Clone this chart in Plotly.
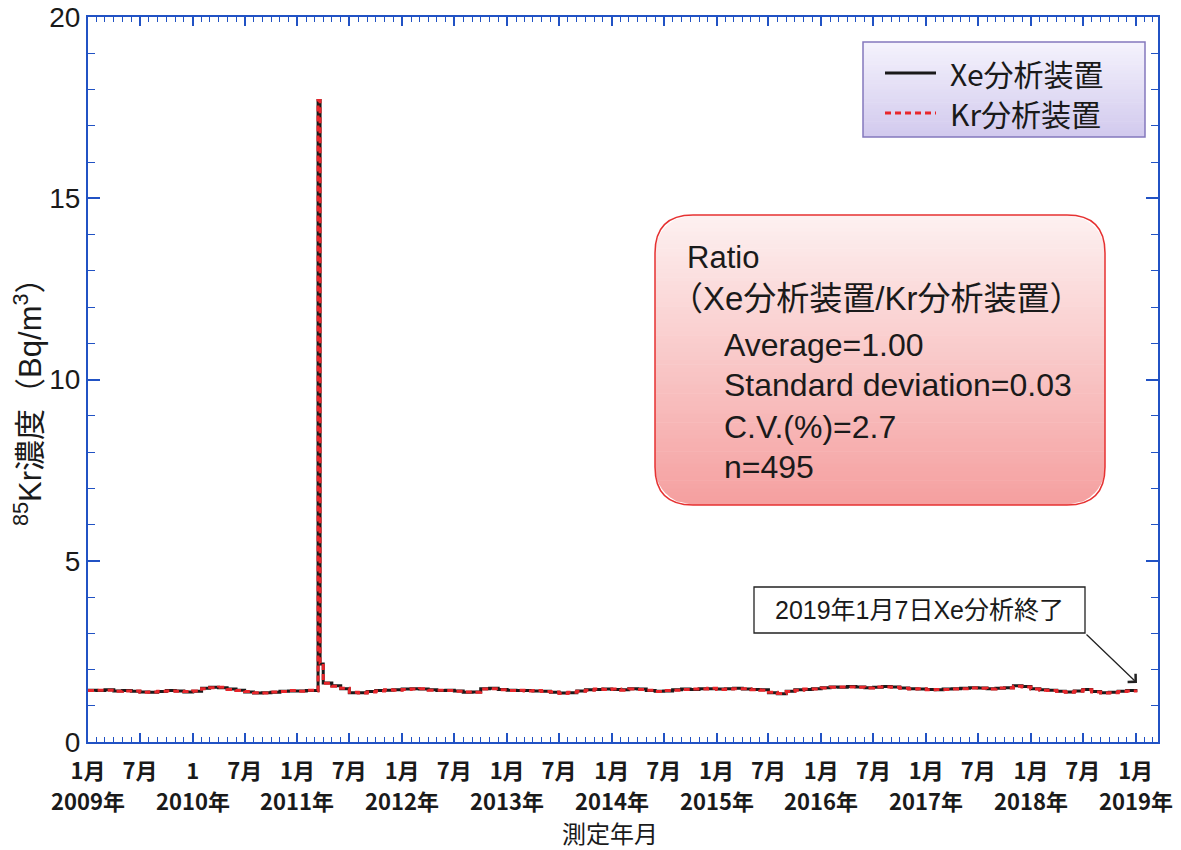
import pandas as pd
import plotly.graph_objects as go

# Monthly 85Kr concentration (Bq/m3), Jan .. Dec of each year
xe_2009 = [1.43, 1.42, 1.44, 1.41, 1.42, 1.40, 1.38, 1.37, 1.39, 1.42, 1.41, 1.38]
xe_2010 = [1.40, 1.48, 1.51, 1.50, 1.46, 1.43, 1.38, 1.35, 1.36, 1.37, 1.40, 1.41]
xe_2011 = [1.41, 1.42, 1.42, 1.63, 1.55, 1.47, 1.36, 1.36, 1.39, 1.42, 1.43, 1.44]
xe_2012 = [1.46, 1.47, 1.46, 1.44, 1.42, 1.43, 1.41, 1.37, 1.38, 1.47, 1.48, 1.45]
xe_2013 = [1.43, 1.42, 1.42, 1.41, 1.40, 1.37, 1.35, 1.36, 1.41, 1.44, 1.45, 1.46]
xe_2014 = [1.45, 1.44, 1.47, 1.46, 1.42, 1.40, 1.41, 1.44, 1.46, 1.45, 1.47, 1.47]
xe_2015 = [1.46, 1.47, 1.48, 1.46, 1.45, 1.44, 1.36, 1.33, 1.40, 1.44, 1.45, 1.47]
xe_2016 = [1.50, 1.52, 1.51, 1.53, 1.52, 1.50, 1.51, 1.53, 1.52, 1.49, 1.47, 1.46]
xe_2017 = [1.45, 1.44, 1.46, 1.47, 1.48, 1.50, 1.49, 1.47, 1.48, 1.50, 1.55, 1.53]
xe_2018 = [1.47, 1.44, 1.43, 1.40, 1.38, 1.41, 1.45, 1.39, 1.36, 1.37, 1.40, 1.42]
xe_2019 = [1.42]

kr_2009 = [1.42, 1.43, 1.43, 1.40, 1.41, 1.41, 1.37, 1.38, 1.40, 1.41, 1.40, 1.39]
kr_2010 = [1.41, 1.47, 1.50, 1.51, 1.45, 1.42, 1.39, 1.36, 1.35, 1.38, 1.39, 1.42]
kr_2011 = [1.40, 1.43, 1.41, 1.62, 1.54, 1.48, 1.37, 1.35, 1.38, 1.41, 1.44, 1.43]
kr_2012 = [1.45, 1.46, 1.47, 1.43, 1.43, 1.42, 1.40, 1.38, 1.37, 1.46, 1.47, 1.44]
kr_2013 = [1.42, 1.43, 1.41, 1.42, 1.39, 1.38, 1.34, 1.37, 1.40, 1.43, 1.46, 1.45]
kr_2014 = [1.46, 1.43, 1.46, 1.45, 1.43, 1.39, 1.42, 1.43, 1.45, 1.46, 1.46, 1.48]
kr_2015 = [1.45, 1.46, 1.47, 1.47, 1.44, 1.43, 1.37, 1.34, 1.39, 1.43, 1.46, 1.46]
kr_2016 = [1.49, 1.51, 1.52, 1.52, 1.51, 1.49, 1.52, 1.52, 1.51, 1.48, 1.46, 1.47]
kr_2017 = [1.44, 1.45, 1.45, 1.46, 1.47, 1.49, 1.48, 1.46, 1.49, 1.49, 1.54, 1.52]
kr_2018 = [1.46, 1.43, 1.42, 1.39, 1.37, 1.40, 1.44, 1.38, 1.35, 1.36, 1.39, 1.41]
kr_2019 = [1.41]

# Weekly results around the March 2011 release
spike_dates = ["2011-03-14", "2011-03-21"]
xe_spike = [17.7, 2.15]
kr_spike = [17.7, 2.18]

end_date = "2019-01-07"

# Axis labels
half_year_ticks = pd.date_range("2009-01-01", "2019-01-01", freq="6MS")
half_year_text = ["1月", "7月", "1", "7月", "1月", "7月", "1月", "7月", "1月", "7月",
                  "1月", "7月", "1月", "7月", "1月", "7月", "1月", "7月", "1月", "7月", "1月"]
year_labels = ["2009年", "2010年", "2011年", "2012年", "2013年", "2014年",
               "2015年", "2016年", "2017年", "2018年", "2019年"]

series_names = ["Xe分析装置", "Kr分析装置"]
ratio_lines = ["Ratio", "（Xe分析装置/Kr分析装置）", "Average=1.00",
               "Standard deviation=0.03", "C.V.(%)=2.7", "n=495"]


def build(monthly_lists, spike_vals):
    vals = [v for lst in monthly_lists for v in lst]
    months = pd.date_range("2009-01-01", periods=len(vals), freq="MS")
    s = pd.Series(vals, index=months)
    s = pd.concat([s, pd.Series(spike_vals, index=pd.to_datetime(spike_dates))])
    s.loc[pd.Timestamp(end_date)] = vals[-1]
    return s.sort_index()


xe = build([xe_2009, xe_2010, xe_2011, xe_2012, xe_2013, xe_2014,
            xe_2015, xe_2016, xe_2017, xe_2018, xe_2019], xe_spike)
kr = build([kr_2009, kr_2010, kr_2011, kr_2012, kr_2013, kr_2014,
            kr_2015, kr_2016, kr_2017, kr_2018, kr_2019], kr_spike)

W, H = 1181, 850
L, R, T, B = 88, 1158, 17, 742


def px(x):
    return (x - L) / (R - L)


def py(y):
    return (B - y) / (B - T)


AXIS_BLUE = "#2152c4"
LAT = "Liberation Sans, Noto Sans CJK JP, sans-serif"
CJK = "Noto Sans CJK JP, sans-serif"
XE_COLOR = "#1a1a1a"
KR_COLOR = "#e8262b"
KR_DASH = "6px,4px"

fig = go.Figure()
fig.add_trace(go.Scatter(x=xe.index, y=xe.values, mode="lines", name=series_names[0],
                         line=dict(color=XE_COLOR, width=3, shape="hv")))
fig.add_trace(go.Scatter(x=kr.index, y=kr.values, mode="lines", name=series_names[1],
                         line=dict(color=KR_COLOR, width=3, shape="hv", dash=KR_DASH)))

shapes = []


def lerp(c0, c1, t):
    return "rgb(%d,%d,%d)" % tuple(round(a + (b - a) * t) for a, b in zip(c0, c1))


# legend panel: vertical gradient
lx0, lx1, ly0, ly1 = 863, 1145, 42, 137
n = 30
for i in range(n):
    a = ly0 + (ly1 - ly0) * i / n
    b = ly0 + (ly1 - ly0) * (i + 1) / n + 0.6
    shapes.append(dict(type="rect", xref="paper", yref="paper",
                       x0=px(lx0), x1=px(lx1), y0=py(min(b, ly1)), y1=py(a),
                       fillcolor=lerp((244, 242, 252), (210, 202, 238), i / (n - 1)),
                       line=dict(width=0), layer="above"))
shapes.append(dict(type="rect", xref="paper", yref="paper",
                   x0=px(lx0), x1=px(lx1), y0=py(ly1), y1=py(ly0),
                   line=dict(color="#8478bd", width=1.5), layer="above"))

# legend samples
legend_rows = [73, 113]
shapes.append(dict(type="line", xref="paper", yref="paper",
                   x0=px(885), x1=px(936), y0=py(legend_rows[0]), y1=py(legend_rows[0]),
                   line=dict(color=XE_COLOR, width=3), layer="above"))
shapes.append(dict(type="line", xref="paper", yref="paper",
                   x0=px(885), x1=px(936), y0=py(legend_rows[1]), y1=py(legend_rows[1]),
                   line=dict(color=KR_COLOR, width=3, dash=KR_DASH), layer="above"))

# ratio panel: rounded box with vertical gradient
bx0, bx1, by0, by1, rad = 655, 1105, 215, 505, 38


def inset(y):
    d = min(y - by0, by1 - y)
    if d >= rad:
        return 0.0
    d = max(d, 0.0)
    return rad - (rad ** 2 - (rad - d) ** 2) ** 0.5


n = 70
for i in range(n):
    a = by0 + (by1 - by0) * i / n
    b = min(by0 + (by1 - by0) * (i + 1) / n + 0.6, by1)
    ia, ib = inset(a), inset(b)
    path = "M{},{} L{},{} L{},{} L{},{} Z".format(
        px(bx0 + ia), py(a), px(bx1 - ia), py(a),
        px(bx1 - ib), py(b), px(bx0 + ib), py(b))
    shapes.append(dict(type="path", xref="paper", yref="paper", path=path,
                       fillcolor=lerp((253, 240, 240), (245, 160, 160), i / (n - 1)),
                       line=dict(width=0), layer="above"))

border = ("M{},{} L{},{} Q{},{} {},{} L{},{} Q{},{} {},{} L{},{} Q{},{} {},{} "
          "L{},{} Q{},{} {},{} Z").format(
    px(bx0 + rad), py(by0), px(bx1 - rad), py(by0),
    px(bx1), py(by0), px(bx1), py(by0 + rad),
    px(bx1), py(by1 - rad),
    px(bx1), py(by1), px(bx1 - rad), py(by1),
    px(bx0 + rad), py(by1),
    px(bx0), py(by1), px(bx0), py(by1 - rad),
    px(bx0), py(by0 + rad),
    px(bx0), py(by0), px(bx0 + rad), py(by0))
shapes.append(dict(type="path", xref="paper", yref="paper", path=border,
                   line=dict(color="#e63232", width=1.5), layer="above"))

# note box
shapes.append(dict(type="rect", xref="paper", yref="paper",
                   x0=px(754), x1=px(1085), y0=py(633), y1=py(587),
                   fillcolor="white", line=dict(color="#222222", width=1.3), layer="above"))

annotations = []
for name, row in zip(series_names, legend_rows):
    annotations.append(dict(text=name, xref="paper", yref="paper", x=px(948), y=py(row),
                            xanchor="left", yanchor="middle", showarrow=False,
                            font=dict(family=CJK, size=30, color="#1a1a1a")))

ratio_pos = [(685, 257), (668, 298), (722, 345), (722, 385), (722, 427), (722, 467)]
ratio_size = [31, 33, 32, 32, 32, 32]
for txt, (x, y), sz in zip(ratio_lines, ratio_pos, ratio_size):
    annotations.append(dict(text=txt, xref="paper", yref="paper", x=px(x), y=py(y),
                            xanchor="left", yanchor="middle", showarrow=False,
                            font=dict(family=LAT, size=sz, color="#1a1a1a")))

annotations.append(dict(text="2019年1月7日Xe分析終了", xref="paper", yref="paper",
                        x=px(919.5), y=py(610), xanchor="center", yanchor="middle",
                        showarrow=False, font=dict(family=LAT, size=25, color="#1a1a1a")))
annotations.append(dict(text="", xref="paper", yref="paper", x=px(1137), y=py(683),
                        ax=1085 - 1137, ay=633 - 683, axref="pixel", ayref="pixel",
                        showarrow=True, arrowhead=4, arrowsize=1.7, arrowwidth=1.3,
                        arrowcolor="#222222", standoff=0, startstandoff=0))

for lbl, d in zip(year_labels, pd.date_range("2009-01-01", "2019-01-01", freq="YS")):
    annotations.append(dict(text="<b>%s</b>" % lbl, xref="x", yref="paper", x=d,
                            y=py(800), xanchor="center", yanchor="middle", showarrow=False,
                            font=dict(family=CJK, size=22, color="#1a1a1a")))

annotations.append(dict(text="測定年月", xref="paper", yref="paper", x=px(610), y=py(832),
                        xanchor="center", yanchor="middle", showarrow=False,
                        font=dict(family=CJK, size=24, color="#1a1a1a")))
annotations.append(dict(text="<sup>85</sup>Kr濃度（Bq/m<sup>3</sup>）", xref="paper", yref="paper",
                        x=px(28), y=py(394), xanchor="center", yanchor="middle",
                        textangle=-90, showarrow=False,
                        font=dict(family=LAT, size=31, color="#1a1a1a")))

fig.update_layout(
    width=W, height=H, autosize=False,
    margin=dict(l=L, r=W - R, t=T, b=H - B, pad=0, autoexpand=False),
    paper_bgcolor="white", plot_bgcolor="white",
    showlegend=False,
    shapes=shapes, annotations=annotations,
)

fig.update_xaxes(
    type="date", range=["2009-01-01", "2019-03-20"], automargin=False,
    showgrid=False, zeroline=False,
    showline=True, linecolor=AXIS_BLUE, linewidth=2, mirror="allticks",
    tickmode="array", tickvals=half_year_ticks, ticktext=["<b>%s</b>" % t for t in half_year_text],
    ticks="inside", ticklen=9, tickwidth=1.5, tickcolor=AXIS_BLUE,
    ticklabelstandoff=9,
    minor=dict(dtick="M1", tick0="2009-01-01", ticks="inside", ticklen=5,
               tickwidth=1.2, tickcolor=AXIS_BLUE, showgrid=False),
    tickfont=dict(family=CJK, size=22, color="#1a1a1a"),
)
fig.update_yaxes(
    range=[0, 20], automargin=False, showgrid=False, zeroline=False,
    showline=True, linecolor=AXIS_BLUE, linewidth=2, mirror="allticks",
    tickmode="array", tickvals=[0, 5, 10, 15, 20],
    ticks="inside", ticklen=12, tickwidth=1.5, tickcolor=AXIS_BLUE,
    minor=dict(dtick=1, tick0=0, ticks="inside", ticklen=7,
               tickwidth=1.2, tickcolor=AXIS_BLUE, showgrid=False),
    tickfont=dict(family="Liberation Sans Narrow, Liberation Sans, sans-serif",
                  size=28, color="#1a1a1a"),
)

fig.write_html("out.html")
